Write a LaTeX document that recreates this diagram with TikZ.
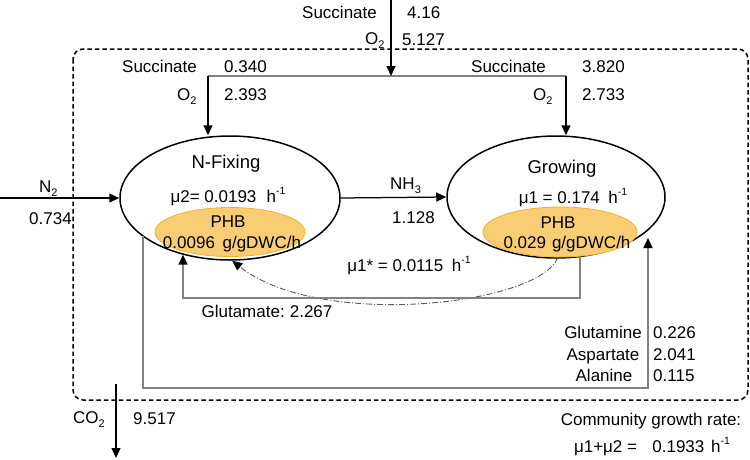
\documentclass[tikz,border=0pt]{standalone}
\usepackage{fontspec}
\setmainfont{Liberation Sans}
\usetikzlibrary{arrows.meta,shapes.geometric}
\definecolor{phbfill}{RGB}{249,205,115}
\definecolor{phbedge}{RGB}{240,178,45}
\definecolor{lgray}{RGB}{130,130,130}
\definecolor{ddgray}{RGB}{90,90,90}
\newcommand\hinv{h\raisebox{0.85ex}{\fontsize{10.5}{10.5}\selectfont -1}}
\newcommand\mysub[1]{\raisebox{-0.45ex}{\fontsize{11}{11}\selectfont #1}}
\begin{document}
\begin{tikzpicture}[x=1pt,y=-1pt,
  lbl/.style={inner sep=0pt,font=\fontsize{17}{20}\selectfont},
  ttl/.style={inner sep=0pt,font=\fontsize{18.5}{22}\selectfont},
  cell/.style={ellipse,draw,line width=1.5pt,inner sep=0pt},
  phb/.style={ellipse,draw=phbedge,fill=phbfill,line width=0.8pt,inner sep=0pt},
  arr/.style={-{Triangle[length=10pt,width=9pt,color=black]}},
  blk/.style={draw=black,line width=1.25pt},
  gry/.style={draw=lgray,line width=1.6pt},
  dd/.style={draw=ddgray,line width=0.9pt,dash pattern=on 6pt off 2pt on 1pt off 2pt},
  boxline/.style={draw=black,line width=1.5pt,dash pattern=on 4.5pt off 3pt,rounded corners=10pt}
]
\path[use as bounding box] (0,0) rectangle (750,459);

% community boundary
\draw[boxline] (73,49) rectangle (748,400);

% cells
\node[cell,minimum width=220pt,minimum height=124pt] (nf) at (230,198) {};
\node[cell,minimum width=218pt,minimum height=122pt] (gr) at (556,197) {};
\node[phb,minimum width=150pt,minimum height=49pt] (nfphb) at (230,232) {};
\node[phb,minimum width=154pt,minimum height=50pt] (grphb) at (560,232) {};

% cell texts
\node[ttl,anchor=base] (nft) at (226,168) {N-Fixing};
\node[lbl,anchor=base] (nfmu) at (228,202) {μ2= 0.0193\hspace{0.6em}\hinv};
\node[lbl,anchor=base] (nfp) at (228,227) {PHB};
\node[lbl,anchor=base] (nfpv) at (232,248) {0.0096\hspace{0.45em}g/gDWC/h};
\node[ttl,anchor=base] (grt) at (562,173) {Growing};
\node[lbl,anchor=base] (grmu) at (573,203) {μ1 = 0.174\hspace{0.5em}\hinv};
\node[lbl,anchor=base] (grp) at (558,228) {PHB};
\node[lbl,anchor=base] (grpv) at (567,248) {0.029\hspace{0.35em}g/gDWC/h};

% top inputs
\coordinate (topin) at (391,0);
\coordinate (split) at (391,76);
\coordinate (lc) at (208,76);
\coordinate (rc) at (566,76);
\draw[gry] (lc) -- (rc);
\draw[blk,arr] (topin) -- (split);
\draw[blk,arr] (lc) -- (lc |- nf.north);
\draw[blk,arr] (rc) -- (rc |- gr.north);

\node[lbl,anchor=base west] (s0) at (302,18) {Succinate};
\node[lbl,anchor=base west] (s0v) at (407,18) {4.16};
\node[lbl,anchor=base west] (o0) at (365,44) {O\mysub{2}};
\node[lbl,anchor=base west] (o0v) at (402,45) {5.127};

\node[lbl,anchor=base west] (s1) at (122,72) {Succinate};
\node[lbl,anchor=base west] (s1v) at (224,72) {0.340};
\node[lbl,anchor=base west] (o1) at (177,100) {O\mysub{2}};
\node[lbl,anchor=base west] (o1v) at (224,100) {2.393};

\node[lbl,anchor=base west] (s2) at (471,72) {Succinate};
\node[lbl,anchor=base west] (s2v) at (582,72) {3.820};
\node[lbl,anchor=base west] (o2) at (533,100) {O\mysub{2}};
\node[lbl,anchor=base west] (o2v) at (582,100) {2.733};

% N2
\coordinate (n2in) at (0,198);
\draw[blk,arr] (n2in) -- (nf.west);
\node[lbl,anchor=base west] (n2) at (39,192) {N\mysub{2}};
\node[lbl,anchor=base west] (n2v) at (29,224) {0.734};

% NH3
\draw[blk,arr] (nf.east) -- (gr.west);
\node[lbl,anchor=base west] (nh3) at (390,189) {NH\mysub{3}};
\node[lbl,anchor=base west] (nh3v) at (392,223) {1.128};

% mu1* flow
\draw[dd,arr] (grphb.265) .. controls (540,305) and (320,330) .. (nf.272);
\node[lbl,anchor=base] (mus) at (409,271) {μ1* = 0.0115\hspace{0.5em}\hinv};

% glutamate
\coordinate (g1) at (580,298);
\coordinate (g2) at (183,298);
\draw[gry,arr] (g1 |- gr.292) -- (g1) -- (g2) -- (g2 |- nf.230);
\node[lbl,anchor=base] (glu) at (267,317) {Glutamate:\hspace{0.3em}2.267};

% amino acids loop
\coordinate (b1) at (143,388);
\coordinate (b2) at (648,388);
\coordinate (b3) at (648,238);
\draw[gry,arr] (b1 |- nf.203.5) -- (b1) -- (b2) -- (b3);
\node[lbl,anchor=base] (aa1) at (603,338) {Glutamine};
\node[lbl,anchor=base] (aa2) at (603,360) {Aspartate};
\node[lbl,anchor=base] (aa3) at (604,381) {Alanine};
\node[lbl,anchor=base west] (aa1v) at (653,338) {0.226};
\node[lbl,anchor=base west] (aa2v) at (653,360) {2.041};
\node[lbl,anchor=base west] (aa3v) at (653,381) {0.115};

% CO2
\coordinate (co2a) at (116,384);
\coordinate (co2b) at (116,458);
\draw[blk,arr] (co2a) -- (co2b);
\node[lbl,anchor=base west] (co2) at (73,423) {CO\mysub{2}};
\node[lbl,anchor=base west] (co2v) at (133,424) {9.517};

% community growth
\node[lbl,anchor=base] (cg) at (651,425) {Community growth rate:};
\node[lbl,anchor=base] (cgv) at (652,452) {μ1+μ2 =\hspace{0.9em}0.1933\hspace{0.4em}\hinv};
\end{tikzpicture}
\end{document}
